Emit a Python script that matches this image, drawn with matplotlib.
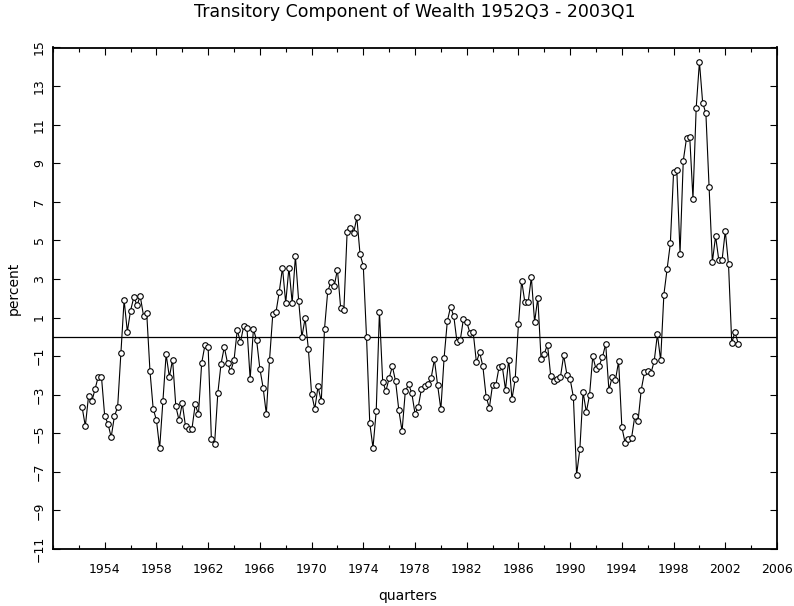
import numpy as np
import pandas as pd
import matplotlib
matplotlib.use("Agg")
import matplotlib.pyplot as plt
from matplotlib.ticker import MultipleLocator

# transitory component, percent, one value per quarter
start_quarter = "1952Q2"
end_quarter = "2003Q1"
wealth = [
    -3.64, -4.63, -3.07, -3.35, -2.72, -2.06, -2.08, -4.12, -4.50, -5.20,
    -4.12, -3.64, -0.84, 1.91, 0.27, 1.36, 2.05, 1.65, 2.10, 1.10,
    1.22, -1.77, -3.74, -4.31, -5.77, -3.33, -0.91, -2.08, -1.18, -3.60,
    -4.33, -3.45, -4.64, -4.76, -4.76, -3.50, -4.02, -1.36, -0.44, -0.53,
    -5.28, -5.54, -2.91, -1.39, -0.53, -1.36, -1.77, -1.22, 0.34, -0.27,
    0.55, 0.48, -2.19, 0.39, -0.18, -1.65, -2.63, -4.00, -1.18, 1.17,
    1.29, 2.33, 3.59, 1.76, 3.59, 1.76, 4.18, 1.88, -0.01, 0.96,
    -0.61, -2.95, -3.74, -2.57, -3.35, 0.41, 2.36, 2.85, 2.62, 3.49,
    1.50, 1.41, 5.44, 5.62, 5.36, 6.19, 4.28, 3.68, 0.00, -4.47,
    -5.75, -3.85, 1.31, -2.32, -2.81, -2.14, -1.53, -2.31, -3.81, -4.89,
    -2.83, -2.46, -2.91, -3.98, -3.64, -2.69, -2.57, -2.43, -2.14, -1.17,
    -2.51, -3.76, -1.10, 0.81, 1.55, 1.07, -0.27, -0.18, 0.95, 0.77,
    0.20, 0.24, -1.32, -0.80, -1.53, -3.10, -3.69, -2.48, -2.51, -1.58,
    -1.53, -2.74, -1.18, -3.23, -2.19, 0.64, 2.92, 1.78, 1.78, 3.09,
    0.77, 2.02, -1.13, -0.87, -0.40, -2.05, -2.31, -2.20, -2.08, -0.96,
    -1.96, -2.19, -3.12, -7.15, -5.83, -2.86, -3.90, -3.03, -1.01, -1.67,
    -1.49, -1.05, -0.37, -2.77, -2.08, -2.25, -1.27, -4.68, -5.49, -5.32,
    -5.25, -4.12, -4.38, -2.74, -1.84, -1.79, -1.88, -1.27, 0.13, -1.22,
    2.19, 3.52, 4.84, 8.52, 8.64, 4.32, 9.13, 10.29, 10.37, 7.17,
    11.88, 14.25, 12.14, 11.58, 7.78, 3.88, 5.22, 3.97, 3.97, 5.49,
    3.75, -0.32, 0.25, -0.35,
]
x_ticks = list(range(1954, 2007, 4))
y_ticks = list(range(-11, 16, 2))

quarters = pd.period_range(start_quarter, end_quarter, freq="Q")
t = quarters.year + (quarters.quarter - 1) / 4.0

fig = plt.figure(figsize=(7.94, 6.06), dpi=100)
ax = fig.add_axes([53 / 794, 1 - 549 / 606, 724 / 794, 501.5 / 606])

ax.axhline(0, color="black", lw=0.9)
ax.plot(t, wealth, color="black", lw=0.8, marker="o", ms=4,
        mfc="white", mec="black", mew=0.8)

ax.set_xlim(1950, 2006)
ax.set_ylim(-11, 15)
ax.set_xticks(x_ticks)
ax.xaxis.set_minor_locator(MultipleLocator(2))
ax.set_yticks(y_ticks)
ax.tick_params(which="both", direction="in", top=True, right=True)
ax.tick_params(which="major", length=5, width=0.8, labelsize=9)
ax.tick_params(which="minor", length=3, width=0.8)
ax.tick_params(axis="x", pad=10)
for lab in ax.get_yticklabels():
    lab.set_rotation(90)
    lab.set_va("center")
ax.tick_params(axis="y", pad=5)
for s in ax.spines.values():
    s.set_linewidth(1.3)

ax.set_title("Transitory Component of Wealth 1952Q3 - 2003Q1", fontsize=12.5, pad=22)
ax.set_xlabel("quarters", fontsize=10)
ax.set_ylabel("percent", fontsize=10)
ax.xaxis.set_label_coords(0.49, -0.08)
ax.yaxis.set_label_coords(-0.045, 0.52)

fig.savefig("out.png", dpi=100)
